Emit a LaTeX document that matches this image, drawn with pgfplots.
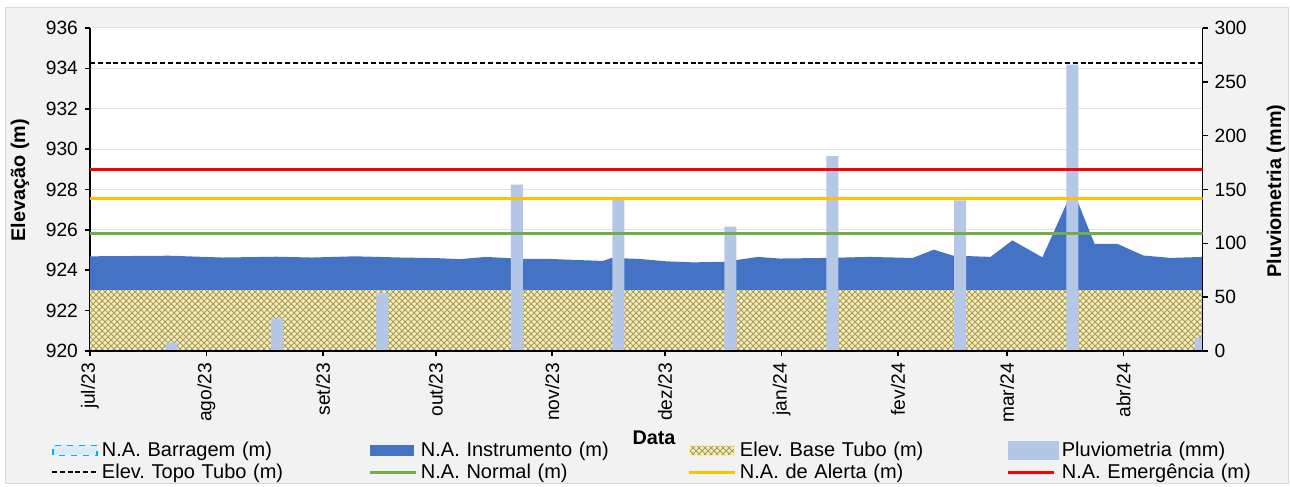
\documentclass[border=0pt]{standalone}
\usepackage{fontspec}
\setmainfont{Liberation Sans}
\usepackage{pgfplots}
\pgfplotsset{compat=1.18}
\usetikzlibrary{patterns}
\frenchspacing

\definecolor{bgc}{HTML}{F2F2F2}
\definecolor{bordc}{HTML}{D9D9D9}
\definecolor{instr}{HTML}{4472C4}
\definecolor{pluv}{HTML}{B4C7E7}
\definecolor{redl}{HTML}{FF0000}
\definecolor{yell}{HTML}{FFC000}
\definecolor{grn}{HTML}{70AD47}
\definecolor{gridc}{HTML}{D9E1F2}
\definecolor{basef}{RGB}{248,238,180}
\definecolor{basep}{RGB}{165,155,100}
\definecolor{barr}{HTML}{00B0F0}
\definecolor{barrf}{HTML}{DDEBF7}

\newcommand\tf{\fontsize{9.6}{11}\selectfont}
\newcommand\lgf{\fontsize{10}{12}\selectfont}
\newcommand\lf{\fontsize{9.9}{11.5}\selectfont\bfseries}

\pgfplotsset{
  common/.style={
    at={(45pt,68pt)}, anchor=south west,
    width=556.25pt, height=161.5pt, scale only axis,
    xmin=0, xmax=296,
    tick align=outside, major tick length=2.5pt,
    axis line style={line width=0.8pt, black},
    tick style={line width=0.8pt, black},
    /pgf/number format/assume math mode=true,
    /pgf/number format/1000 sep={},
  },
}

\begin{document}
\begin{tikzpicture}
\fill[white] (0,0) rectangle (645pt,243.5pt);
\filldraw[fill=bgc, draw=bordc, line width=0.5pt] (2.5pt,1.5pt) rectangle (644pt,239.5pt);
\fill[white] (45pt,68pt) rectangle ++(556.25pt,161.5pt);

% Axis 1: elevation areas
\begin{axis}[common,
  ymin=920, ymax=936, ytick={920,922,...,936},
  axis x line*=bottom, axis y line*=left,
  xtick={0,31,62,92,123,153,184,215,244,275},
  xticklabels={jul/23,ago/23,set/23,out/23,nov/23,dez/23,jan/24,fev/24,mar/24,abr/24},
  xticklabel style={rotate=90, anchor=east, font=\tf},
  yticklabel style={font=\tf},
  ymajorgrids, grid style={gridc, line width=0.5pt},
  xlabel={Data},
  xlabel style={at={(axis description cs:0.507,-0.2693)}, anchor=center, font=\lf},
  ylabel={Elevação (m)},
  ylabel style={at={(axis description cs:-0.0629,0.529)}, anchor=center, font=\lf},
]
\addplot[fill=instr, draw=none] coordinates {
(0,924.69) (21.1,924.72) (35.3,924.63) (49.6,924.67) (59,924.63) (70.5,924.69)
(82.8,924.63) (92.3,924.60) (98.4,924.55) (105.3,924.66) (115.2,924.56) (122.3,924.56)
(136.4,924.46) (138.8,924.61) (146.3,924.56) (153.4,924.44) (160.4,924.39) (168.9,924.42)
(177.7,924.66) (183.5,924.58) (196,924.61) (207.2,924.66) (218.9,924.61) (224.5,925.02)
(229.5,924.73) (239.6,924.66) (245.4,925.48) (253.4,924.64) (261.5,928.0) (267.3,925.30)
(273.3,925.31) (280.3,924.73) (287.5,924.61) (296,924.66)
} \closedcycle;
\addplot[fill=basef, draw=none, postaction={pattern=crosshatch, pattern color=basep}]
  coordinates {(0,923) (296,923)} \closedcycle;
\end{axis}

% Axis 2: rainfall bars
\begin{axis}[common,
  ymin=0, ymax=300, ytick={0,50,...,300},
  axis y line*=right, axis x line*=bottom, xtick=\empty,
  yticklabel style={font=\tf},
  ylabel={Pluviometria (mm)},
  ylabel style={at={(axis description cs:1.066,0.495)}, anchor=center, rotate=0, font=\lf},
  axis on top,
  ybar, bar width=3.2, bar shift=0pt,
]
\addplot[fill=pluv, draw=none] coordinates {
(21.7,7.7) (49.7,30.4) (77.7,54) (113.6,154.5) (140.6,142.7)
(170.4,115.5) (197.5,181) (231.5,140) (261.4,266) (295.5,12.4)
};
\end{axis}

% Axis 3: reference lines and legend
\begin{axis}[common,
  ymin=920, ymax=936, hide axis,
  legend columns=4,
  legend cell align=left,
  legend image code/.code={\draw[#1] (0pt,0pt) -- (23pt,0pt);},
  legend style={draw=none, fill=none, inner sep=0pt, outer sep=0pt,
    at={(axis description cs:-0.03506,-0.274)}, anchor=north west,
    font=\lgf,
    /tikz/every even column/.append style={column sep=0pt},
    nodes={text width=132pt, inner xsep=1.5pt, inner ysep=1.1pt, align=left}},
]
\addlegendimage{legend image code/.code={\draw[barr, dashed, fill=barrf, line width=0.7pt] (0.5pt,-2.5pt) rectangle (22.5pt,2.5pt);}}
\addlegendentry{N.A. Barragem (m)}
\addlegendimage{legend image code/.code={\fill[instr] (0pt,-2.5pt) rectangle (21.5pt,2.5pt);}}
\addlegendentry{N.A. Instrumento (m)}
\addlegendimage{legend image code/.code={\fill[basef, postaction={pattern=crosshatch, pattern color=basep}] (0pt,-2.5pt) rectangle (22.5pt,2.5pt);}}
\addlegendentry{Elev. Base Tubo (m)}
\addlegendimage{legend image code/.code={\fill[pluv] (0pt,-4.5pt) rectangle (25pt,4.5pt);}}
\addlegendentry{Pluviometria (mm)}
\addplot[black, line width=1pt, dash pattern=on 2.5pt off 1.4pt] coordinates {(0,934.25) (296,934.25)};
\addlegendentry{Elev. Topo Tubo (m)}
\addplot[grn, line width=1.5pt] coordinates {(0,925.8) (296,925.8)};
\addlegendentry{N.A. Normal (m)}
\addplot[yell, line width=1.5pt] coordinates {(0,927.54) (296,927.54)};
\addlegendentry{N.A. de Alerta (m)}
\addplot[redl, line width=1.5pt] coordinates {(0,929) (296,929)};
\addlegendentry{N.A. Emergência (m)}
\end{axis}

\pgfresetboundingbox
\useasboundingbox (0,0) rectangle (645pt,243.5pt);
\end{tikzpicture}
\end{document}
